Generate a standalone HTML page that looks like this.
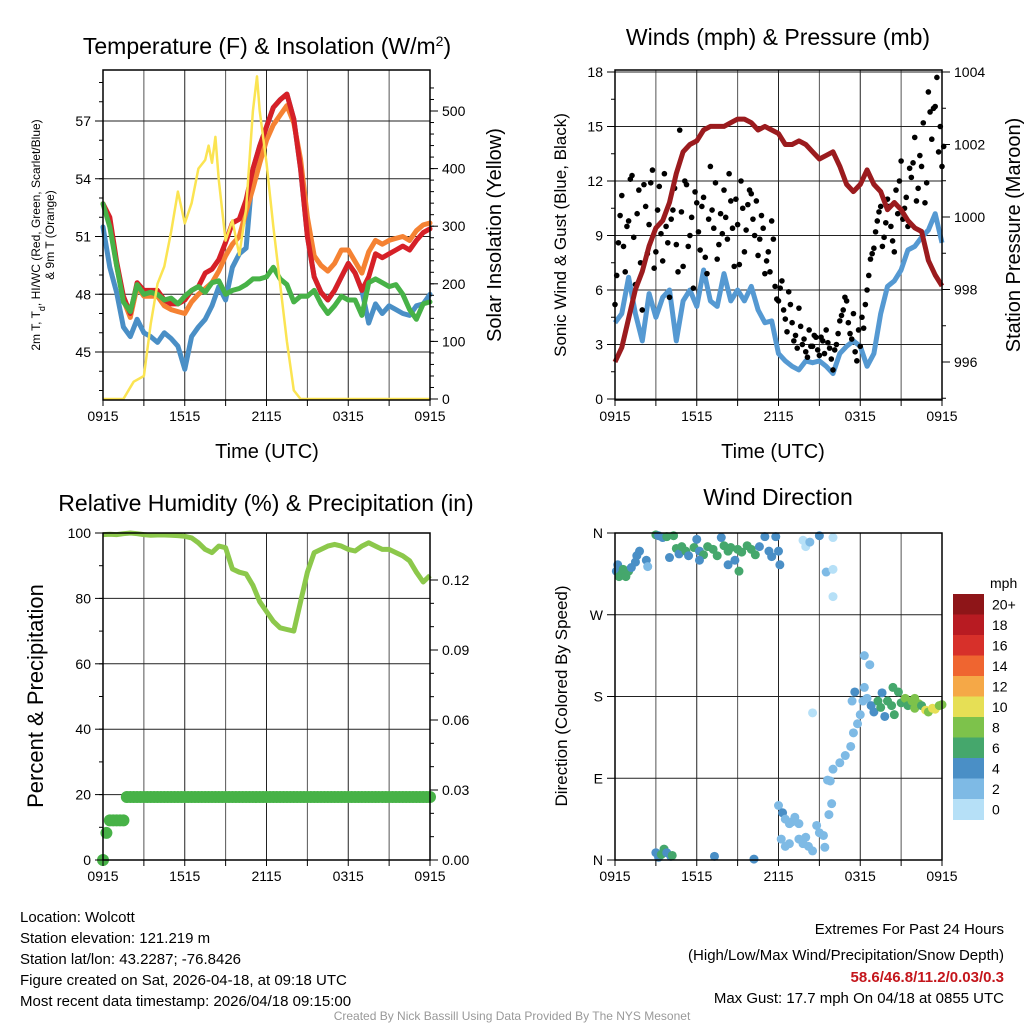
<!DOCTYPE html>
<html><head><meta charset="utf-8"><style>
html,body{margin:0;padding:0;background:#fff;}
svg{display:block;font-family:"Liberation Sans",sans-serif;}
</style></head><body>
<svg id="chart" width="1024" height="1024" viewBox="0 0 1024 1024" xmlns="http://www.w3.org/2000/svg">
<g id="layer-grid"></g>
<g id="layer-data"></g>
<g id="layer-axes"></g>
<text x="267" y="54" font-size="23" text-anchor="middle">Temperature (F) &amp; Insolation (W/m<tspan baseline-shift="super" font-size="14">2</tspan>)</text>
<text x="778" y="45" font-size="23" text-anchor="middle">Winds (mph) &amp; Pressure (mb)</text>
<text x="266" y="511" font-size="23" text-anchor="middle">Relative Humidity (%) &amp; Precipitation (in)</text>
<text x="778" y="505" font-size="23" text-anchor="middle">Wind Direction</text>
<text transform="translate(40,235) rotate(-90)" font-size="12" text-anchor="middle">2m T, T<tspan baseline-shift="sub" font-size="9">d</tspan>, HI/WC (Red, Green, Scarlet/Blue)</text>
<text transform="translate(54,235) rotate(-90)" font-size="12" text-anchor="middle">&amp; 9m T (Orange)</text>
<text transform="translate(501,235) rotate(-90)" font-size="20" text-anchor="middle">Solar Insolation (Yellow)</text>
<text transform="translate(566,235) rotate(-90)" font-size="17" text-anchor="middle">Sonic Wind &amp; Gust (Blue, Black)</text>
<text transform="translate(1020,235) rotate(-90)" font-size="20" text-anchor="middle">Station Pressure (Maroon)</text>
<text transform="translate(43,696) rotate(-90)" font-size="22" text-anchor="middle">Percent &amp; Precipitation</text>
<text transform="translate(567,696) rotate(-90)" font-size="17" text-anchor="middle">Direction (Colored By Speed)</text>
<text x="267" y="458" font-size="20" text-anchor="middle">Time (UTC)</text>
<text x="773" y="458" font-size="20" text-anchor="middle">Time (UTC)</text>
<text x="990" y="588" font-size="14">mph</text>
<g font-size="15">
<text x="20" y="922">Location: Wolcott</text>
<text x="20" y="943">Station elevation: 121.219 m</text>
<text x="20" y="964">Station lat/lon: 43.2287; -76.8426</text>
<text x="20" y="985">Figure created on Sat, 2026-04-18, at 09:18 UTC</text>
<text x="20" y="1006">Most recent data timestamp: 2026/04/18 09:15:00</text>
</g>
<g font-size="15" text-anchor="end">
<text x="1004" y="934">Extremes For Past 24 Hours</text>
<text x="1004" y="960">(High/Low/Max Wind/Precipitation/Snow Depth)</text>
<text x="1004" y="982" fill="#c4161c" font-weight="bold">58.6/46.8/11.2/0.03/0.3</text>
<text x="1004" y="1003">Max Gust: 17.7 mph On 04/18 at 0855 UTC</text>
</g>
<text x="512" y="1020" font-size="12" fill="#999" text-anchor="middle">Created By Nick Bassill Using Data Provided By The NYS Mesonet</text>
</svg>
<script>
// ---------- data ----------
const hourTicks = [0, 6, 12, 18, 24];
const hourTickLabels = ["0915", "1515", "2115", "0315", "0915"];
const halfHours = [0,0.5,1,1.5,2,2.5,3,3.5,4,4.5,5,5.5,6,6.5,7,7.5,8,8.5,9,9.5,10,10.5,11,11.5,12,12.5,13,13.5,14,14.5,15,15.5,16,16.5,17,17.5,18,18.5,19,19.5,20,20.5,21,21.5,22,22.5,23,23.5,24];
const tempRed = [52.7,52.0,49.7,47.9,47.0,48.6,48.2,48.2,48.2,47.7,47.5,47.5,47.7,48.2,48.4,49.1,49.3,49.8,50.7,51.7,51.9,52.9,54.5,55.7,56.7,57.7,58.1,58.4,57.1,54.5,51.0,48.9,48.1,47.7,48.2,48.9,49.6,49.1,48.2,48.9,50.1,49.9,50.1,50.3,50.5,50.3,50.8,51.2,51.4];
const temp9m = [52.7,51.8,49.5,47.7,46.8,48.4,47.9,47.9,47.9,47.4,47.2,47.1,47.0,47.6,48.0,48.3,48.6,49.2,50.0,50.6,51.0,52.3,53.5,54.8,56.0,56.8,57.3,57.8,56.9,55.0,52.0,50.0,49.5,49.2,49.6,50.3,50.3,49.7,49.1,50.2,50.8,50.6,50.8,50.9,51.0,50.8,51.3,51.6,51.7];
const dewpoint = [52.7,51.5,49.5,47.6,47.1,48.5,48.0,48.1,48.0,47.7,47.8,47.5,47.9,48.2,48.4,48.1,48.6,48.7,48.0,48.2,48.3,48.5,48.8,48.8,48.9,49.4,48.8,48.5,47.6,47.9,47.9,48.2,47.5,47.0,47.4,47.9,47.7,47.7,46.9,48.6,48.8,48.6,48.4,48.5,48.0,47.2,46.7,47.5,47.6];
const heatIndex = [51.5,49.4,48.1,46.3,45.8,46.7,46.0,45.8,45.5,46.0,45.7,45.3,44.1,45.8,46.3,46.7,47.4,48.4,47.7,49.4,50.1,50.4,54.5,55.7,56.7,57.7,58.1,58.4,57.1,54.5,51.0,48.9,48.1,47.7,48.2,48.9,49.6,49.1,48.2,46.5,47.5,47.0,47.4,47.2,47.0,46.9,47.4,47.5,48.0];
const solarHours = [0,1.5,1.75,2.25,3,3.5,4,4.5,5,5.5,6,6.5,7,7.5,7.75,8,8.25,8.5,9,9.5,10,10.5,11,11.3,11.5,12,12.5,13,13.5,14,14.5,24];
const solar = [0,0,10,30,40,130,200,230,290,360,305,340,400,415,440,410,455,380,275,310,250,330,500,560,500,410,300,200,100,15,0,0];
const windSpeed = [4.2,4.7,6.7,4.7,3.2,5.8,4.5,5.6,6.0,3.2,5.4,6.0,5.1,7.1,5.4,5.1,6.9,5.4,6.0,5.4,6.2,4.9,4.2,4.3,2.5,2.1,1.8,1.6,2.1,2.0,2.1,1.8,1.4,2.5,2.9,3.2,2.9,1.8,2.5,4.7,6.2,6.5,7.1,8.2,8.4,8.9,9.3,10.2,8.6];
const pressure = [996.0,996.4,997.2,998.0,998.5,999.2,999.7,999.9,1000.4,1001.2,1001.8,1002.0,1002.1,1002.4,1002.5,1002.5,1002.5,1002.6,1002.7,1002.7,1002.6,1002.4,1002.5,1002.4,1002.3,1002.0,1002.0,1002.1,1002.0,1001.8,1001.6,1001.7,1001.8,1001.4,1000.9,1000.7,1000.9,1001.3,1000.9,1000.7,1000.2,1000.4,1000.2,999.9,999.7,999.6,998.8,998.4,998.1];
const gusts = [5.2,8.6,11.2,7.0,9.8,12.3,6.3,11.5,4.9,10.6,9.6,12.6,8.1,11.7,7.6,9.5,5.6,10.4,8.5,14.8,7.3,11.8,9.0,6.1,10.8,8.2,11.1,6.9,12.8,9.4,7.7,10.2,11.5,8.8,10.9,7.3,9.6,12.0,8.1,10.7,11.3,9.0,7.9,10.1,6.9,8.1,9.8,6.2,5.4,6.5,4.4,5.9,4.2,3.5,5.0,3.0,2.6,3.8,2.9,3.4,2.4,3.2,3.8,2.8,1.6,3.0,4.3,4.9,5.4,3.6,4.7,2.1,2.9,3.9,6.0,7.7,8.3,9.8,10.6,8.9,11.0,9.5,8.1,10.2,13.1,10.5,9.5,12.2,14.4,11.6,12.8,10.8,16.9,14.3,16.1,13.6,12.8];
const gustsB = [6.8,10.1,8.4,9.5,12.1,8.9,10.2,7.5,11.8,8.0,11.9,7.2,10.4,9.1,12.4,8.6,9.9,11.6,7.0,10.3,12.0,8.4,10.0,11.4,9.2,10.6,7.8,9.9,10.4,11.9,8.5,9.1,10.0,12.4,9.4,11.0,7.4,10.5,9.3,11.5,9.9,10.9,8.8,9.4,7.6,7.0,8.8,5.5,6.1,4.9,3.7,5.2,3.2,2.8,4.0,3.3,2.3,2.9,3.5,2.7,3.4,2.5,3.1,2.2,2.7,3.6,4.6,5.6,4.2,3.3,2.6,3.8,4.5,5.2,6.8,8.0,9.2,10.3,8.4,9.7,10.6,8.7,11.5,12.0,9.9,11.1,12.7,13.0,10.9,13.4,15.2,11.9,15.8,16.0,17.7,15.0,13.9];
const rh = [99.5,99.6,99.5,99.8,100,99.8,99.5,99.3,99.4,99.4,99.3,99.2,99.0,98.5,97,95,94,96,95.5,89,88,87.5,84,79,76,73,71,70.5,70,79,88,94,95,96,96.5,96,95,94.5,96,97,96,95,95,94,93,91.5,88,85,87];
const precip = [0,0.0116,0.017,0.017,0.017,0.017,0.017,0.027,0.027,0.027,0.027,0.027,0.027,0.027,0.027,0.027,0.027,0.027,0.027,0.027,0.027,0.027,0.027,0.027,0.027,0.027,0.027,0.027,0.027,0.027,0.027,0.027,0.027,0.027,0.027,0.027,0.027,0.027,0.027,0.027,0.027,0.027,0.027,0.027,0.027,0.027,0.027,0.027,0.027,0.027,0.027,0.027,0.027,0.027,0.027,0.027,0.027,0.027,0.027,0.027,0.027,0.027,0.027,0.027,0.027,0.027,0.027,0.027,0.027,0.027,0.027,0.027,0.027,0.027,0.027,0.027,0.027,0.027,0.027,0.027,0.027,0.027,0.027,0.027,0.027,0.027,0.027,0.027,0.027,0.027,0.027,0.027,0.027,0.027,0.027,0.027,0.027];
const dirTimes = [0.1,0.2,0.3,0.5,0.6,0.8,1.0,1.2,1.5,1.6,1.8,2.3,2.4,3.0,3.2,3.5,3.8,4.3,4.5,4.7,4.9,5.2,5.4,5.8,6.0,6.2,6.5,6.8,7.2,7.5,7.8,8.0,8.3,8.5,8.8,9.0,9.3,9.7,10.0,10.3,10.6,11.0,11.3,11.5,11.8,12.0,12.1,9.1,6.2,8.3,4.0,13.8,14.0,14.3,15.0,15.5,16.0,16.0,16.0,3.0,3.2,3.4,3.6,3.8,4.1,4.2,7.3,10.2,12.0,12.3,12.5,12.8,13.0,13.2,13.5,13.5,13.8,14.0,14.2,14.5,14.8,15.0,15.3,12.2,12.5,12.8,15.4,15.7,15.9,15.6,15.8,16.0,16.5,16.9,17.3,17.5,17.8,18.0,18.2,18.3,18.7,18.3,14.5,17.4,17.6,18.5,18.8,19.0,19.3,19.5,19.8,20.0,20.3,20.5,20.8,21.0,21.3,21.5,21.8,22.0,22.3,22.5,22.8,23.0,23.3,23.5,23.8,24.0,19.6,20.4,22.0];
const dirDegrees = [318,325,312,315,320,312,318,322,328,335,340,330,323,358,357,355,356,357,343,337,345,340,335,344,353,340,336,345,342,335,355,346,340,344,330,342,339,346,342,336,345,356,340,334,356,340,325,318,330,325,333,352,345,350,357,317,355,320,290,8,3,6,12,8,4,5,4,1,60,52,45,40,42,47,40,23,18,25,15,10,38,30,27,23,15,18,14,50,62,88,87,100,107,115,125,140,150,160,175,190,215,225,162,175,185,178,170,163,175,168,158,175,170,160,185,173,178,170,175,167,172,170,165,163,167,166,170,171,184,190,178];
const dirSpeeds = [4,4,6,6,6,6,6,4,4,4,4,4,2,6,4,4,6,6,6,4,6,6,4,6,4,4,6,6,6,6,4,6,6,6,4,6,6,6,6,6,4,4,4,4,4,4,4,6,4,4,4,0,0,2,4,2,0,0,0,4,4,6,6,4,4,6,4,4,2,4,2,2,2,2,2,2,2,2,2,2,2,2,2,2,2,2,2,2,2,2,2,2,2,2,2,2,2,2,2,2,2,2,0,2,4,2,4,4,6,6,4,6,6,6,6,6,8,6,8,8,8,6,10,8,10,10,8,8,4,6,8];
const cbLabels = ["20+","18","16","14","12","10","8","6","4","2","0"];
const cbColors = ["#8e1518","#b81b22","#d7302a","#ef6530","#f5a847","#e6df55","#7dc24b","#45a76c","#4a8fc6","#7ebae5","#b6e0f7"];

// ---------- helpers ----------
const NS = "http://www.w3.org/2000/svg";
const gGrid = document.getElementById("layer-grid");
const gData = document.getElementById("layer-data");
const gAxes = document.getElementById("layer-axes");
function mk(tag, attrs, parent) {
  const e = document.createElementNS(NS, tag);
  for (const k in attrs) e.setAttribute(k, attrs[k]);
  parent.appendChild(e);
  return e;
}
function txt(str, x, y, size, anchor, parent) {
  const t = mk("text", {x: x, y: y, "font-size": size, "text-anchor": anchor}, parent);
  t.textContent = str;
  return t;
}
function linear(d0, d1, r0, r1) { return v => r0 + (v - d0) / (d1 - d0) * (r1 - r0); }

const P1 = {x0: 103, x1: 430, y0: 70, y1: 400};
const P2 = {x0: 615, x1: 942, y0: 70, y1: 400};
const P3 = {x0: 103, x1: 430, y0: 533, y1: 860};
const P4 = {x0: 615, x1: 942, y0: 533, y1: 860};

function frame(P, name) {
  const r = mk("rect", {x: P.x0, y: P.y0, width: P.x1 - P.x0, height: P.y1 - P.y0, fill: "none", stroke: "#000", "stroke-width": 1.5}, gAxes);
  
  
}
function xAxis(P, xs, name) {
  for (let h = 3; h < 24; h += 3) {
    const l = mk("line", {x1: xs(h), x2: xs(h), y1: P.y0, y2: P.y1, stroke: h % 6 ? "#555" : "#222", "stroke-width": 1}, gGrid);
    
    
  }
  for (let h = 0; h <= 24; h += 3) {
    mk("line", {x1: xs(h), x2: xs(h), y1: P.y1, y2: P.y1 + 6, stroke: "#000", "stroke-width": 1}, gAxes);
  }
  hourTicks.forEach((h, i) => {
    const t = txt(hourTickLabels[i], xs(h), P.y1 + 21, 14, "middle", gAxes);
    
    
  });
}
function yAxis(P, ys, ticks, labels, side, minor, grid, name) {
  const xe = side === "left" ? P.x0 : P.x1;
  const dir = side === "left" ? -1 : 1;
  minor.forEach(v => mk("line", {x1: xe, x2: xe + dir * 4, y1: ys(v), y2: ys(v), stroke: "#000", "stroke-width": 1}, gAxes));
  ticks.forEach((v, i) => {
    const y = ys(v);
    mk("line", {x1: xe, x2: xe + dir * 8, y1: y, y2: y, stroke: "#000", "stroke-width": 1}, gAxes);
    if (grid) {
      const l = mk("line", {x1: P.x0, x2: P.x1, y1: y, y2: y, stroke: "#222", "stroke-width": 1}, gGrid);
      
      
    }
    const t = txt(labels[i], xe + dir * 12, y + 5, 14, side === "left" ? "end" : "start", gAxes);
    
    
  });
}
function pathD(xsArr, ysArr, xs, ys) {
  let d = "";
  xsArr.forEach((t, i) => { d += (i ? "L" : "M") + xs(t).toFixed(1) + "," + ys(ysArr[i]).toFixed(1); });
  return d;
}
function range(a, b, s) { const r = []; for (let v = a; v <= b + 1e-9; v += s) r.push(+v.toFixed(4)); return r; }

// ---------- panel 1 ----------
const x1s = linear(0, 24, P1.x0, P1.x1);
const yT = linear(57, 45, 121, 352);
const yS = linear(0, 500, 399, 111);
xAxis(P1, x1s, "temp");
yAxis(P1, yT, [45, 48, 51, 54, 57], ["45", "48", "51", "54", "57"], "left", range(43, 59, 1), true, "temp");
yAxis(P1, yS, [0, 100, 200, 300, 400, 500], ["0", "100", "200", "300", "400", "500"], "right", range(0, 550, 20), false, "solar");
[["heat-index-line", heatIndex, "#4a8fc6"], ["temp-9m-line", temp9m, "#f58233"], ["temp-2m-line", tempRed, "#d62027"], ["dewpoint-line", dewpoint, "#47b247"]].forEach(s => {
  const p = mk("path", {d: pathD(halfHours, s[1], x1s, yT), fill: "none", stroke: s[2], "stroke-width": 5, "stroke-linejoin": "round", "stroke-linecap": "round"}, gData);
  
  
});
const solarLine = mk("path", {d: pathD(solarHours, solar, x1s, yS), fill: "none", stroke: "#fbe452", "stroke-width": 2.5, "stroke-linejoin": "round"}, gData);


frame(P1, "temp");

// ---------- panel 2 ----------
const x2s = linear(0, 24, P2.x0, P2.x1);
const yW = linear(0, 18, 399, 72);
const yP = linear(996, 1004, 362, 72);
xAxis(P2, x2s, "winds");
yAxis(P2, yW, [0, 3, 6, 9, 12, 15, 18], ["0", "3", "6", "9", "12", "15", "18"], "left", range(0, 18, 1.5), true, "wind");
yAxis(P2, yP, [996, 998, 1000, 1002, 1004], ["996", "998", "1000", "1002", "1004"], "right", range(995, 1004, 1), false, "pressure");
const windLine = mk("path", {d: pathD(halfHours, windSpeed, x2s, yW), fill: "none", stroke: "#5599d2", "stroke-width": 5, "stroke-linejoin": "round"}, gData);


const qh = range(0, 24, 0.25);
gusts.forEach((g, i) => {
  const c = mk("circle", {cx: x2s(qh[i]), cy: yW(g), r: 2.8, fill: "#000"}, gData);
  
  
});
gustsB.forEach((g, i) => {
  const c = mk("circle", {cx: x2s(qh[i] + 0.125), cy: yW(g), r: 2.8, fill: "#000"}, gData);
  
  
});
const presLine = mk("path", {d: pathD(halfHours, pressure, x2s, yP), fill: "none", stroke: "#9b1b1e", "stroke-width": 5, "stroke-linejoin": "round"}, gData);


frame(P2, "winds");

// ---------- panel 3 ----------
const x3s = linear(0, 24, P3.x0, P3.x1);
const yR = linear(0, 100, 860, 533);
const yPr = linear(0, 0.03, 860, 790);
xAxis(P3, x3s, "rh");
yAxis(P3, yR, [0, 20, 40, 60, 80, 100], ["0", "20", "40", "60", "80", "100"], "left", range(0, 100, 10), true, "rh");
yAxis(P3, yPr, [0, 0.03, 0.06, 0.09, 0.12], ["0.00", "0.03", "0.06", "0.09", "0.12"], "right", range(0, 0.1157, 0.01), false, "precip");
precip.forEach((p, i) => {
  const c = mk("circle", {cx: x3s(qh[i]), cy: yPr(p), r: 6, fill: "#47b247"}, gData);
  
  
});
const rhLine = mk("path", {d: pathD(halfHours, rh, x3s, yR), fill: "none", stroke: "#8cc84b", "stroke-width": 5, "stroke-linejoin": "round"}, gData);


frame(P3, "rh");

// ---------- panel 4 ----------
const x4s = linear(0, 24, P4.x0, P4.x1);
const yD = linear(0, 360, 860, 533);
xAxis(P4, x4s, "wdir");
yAxis(P4, yD, [0, 90, 180, 270, 360], ["N", "E", "S", "W", "N"], "left", [], true, "wdir");
function speedColor(s) { return cbColors[10 - Math.min(10, Math.floor(s / 2))]; }
dirTimes.forEach((t, i) => {
  const c = mk("circle", {cx: x4s(t), cy: yD(dirDegrees[i]), r: 4.5, fill: speedColor(dirSpeeds[i])}, gData);
  
  
});
frame(P4, "wdir");

// colorbar
const cbTop = 594, cbH = 20.5;
cbColors.forEach((col, i) => {
  const r = mk("rect", {x: 953, y: cbTop + i * cbH, width: 31, height: cbH + 0.5, fill: col}, gAxes);
  
  
  const t = txt(cbLabels[i], 992, cbTop + i * cbH + cbH / 2 + 5, 14, "start", gAxes);
  
  
});
</script>
</body></html>
